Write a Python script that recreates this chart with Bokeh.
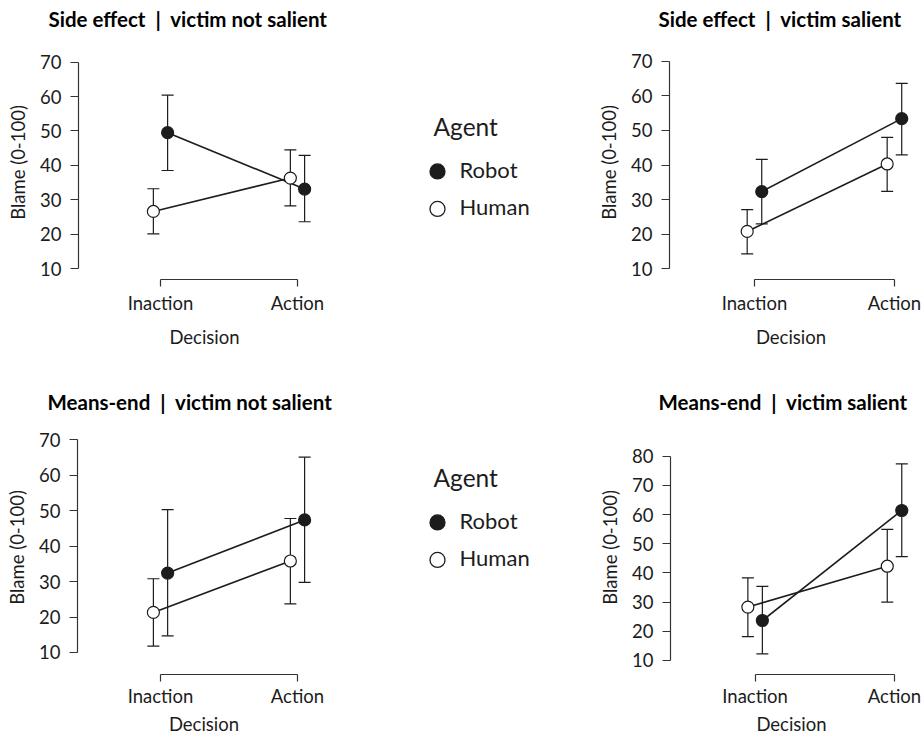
from bokeh.plotting import figure
from bokeh.models import ColumnDataSource, Range1d, FixedTicker, Whisker, TeeHead, Title
from bokeh.layouts import row, column
from bokeh.core.properties import value
from bokeh.embed import file_html
from bokeh.resources import INLINE

FONT = "Lato"
INK = "#1c1c1c"
NB = "\u00a0"

DECISIONS = ["Inaction", "Action"]
AGENTS = ["Robot", "Human"]
AGENT_FILL = {"Robot": INK, "Human": "white"}
AGENT_SHIFT = {"Human": -0.052, "Robot": 0.052}

# Mean blame with 95% CI, ordered as DECISIONS
SE_NS_ROBOT = [49.5, 33.1]
SE_NS_ROBOT_LO = [38.5, 23.6]
SE_NS_ROBOT_HI = [60.4, 42.9]
SE_NS_HUMAN = [26.6, 36.3]
SE_NS_HUMAN_LO = [20.1, 28.2]
SE_NS_HUMAN_HI = [33.2, 44.5]

SE_S_ROBOT = [32.3, 53.4]
SE_S_ROBOT_LO = [23.0, 42.9]
SE_S_ROBOT_HI = [41.6, 63.6]
SE_S_HUMAN = [20.8, 40.3]
SE_S_HUMAN_LO = [14.3, 32.4]
SE_S_HUMAN_HI = [27.1, 48.0]

ME_NS_ROBOT = [32.4, 47.4]
ME_NS_ROBOT_LO = [14.7, 29.8]
ME_NS_ROBOT_HI = [50.3, 65.1]
ME_NS_HUMAN = [21.3, 35.8]
ME_NS_HUMAN_LO = [11.8, 23.7]
ME_NS_HUMAN_HI = [30.8, 47.8]

ME_S_ROBOT = [23.7, 61.4]
ME_S_ROBOT_LO = [12.3, 45.6]
ME_S_ROBOT_HI = [35.4, 77.4]
ME_S_HUMAN = [28.3, 42.3]
ME_S_HUMAN_LO = [18.2, 30.0]
ME_S_HUMAN_HI = [38.3, 54.9]

Y_TICKS_70 = [10, 20, 30, 40, 50, 60, 70]
Y_TICKS_80 = [10, 20, 30, 40, 50, 60, 70, 80]

SEP = NB + NB + "|" + NB + NB
TITLES = [
    "Side effect" + SEP + "victim not salient",
    "Side effect" + SEP + "victim salient",
    "Means-end" + SEP + "victim not salient",
    "Means-end" + SEP + "victim salient",
]


def build_source(series):
    cols = {"x": [], "mean": [], "lo": [], "hi": [], "agent": []}
    for agent, (mean, lo, hi) in series.items():
        for i, d in enumerate(DECISIONS):
            cols["x"].append(i + 1 + AGENT_SHIFT[agent])
            cols["mean"].append(mean[i])
            cols["lo"].append(lo[i])
            cols["hi"].append(hi[i])
            cols["agent"].append(agent)
    return cols


def panel(title, series, y_ticks, x_rng, y_rng, width, height, borders, title_offset,
          title_gap, label_gaps):
    left, right, top, bottom = borders
    p = figure(width=width, height=height, x_range=Range1d(*x_rng), y_range=Range1d(*y_rng),
               output_backend="svg", toolbar_location=None,
               min_border_left=left, min_border_right=right,
               min_border_top=top, min_border_bottom=bottom)
    p.outline_line_color = None
    p.grid.visible = False
    p.background_fill_color = "white"
    p.border_fill_color = "white"

    # thin blank strip between the frame and the title
    spacer_gap, title_standoff = title_gap
    if spacer_gap:
        p.add_layout(Title(text=NB, text_font_size="1px", standoff=spacer_gap), "above")
    t = Title(text=title, align="left", offset=title_offset, text_font=FONT,
              text_font_size="20.5px", text_font_style="bold", text_color="black",
              standoff=title_standoff)
    p.add_layout(t, "above")

    cols = build_source(series)
    src = ColumnDataSource(cols)

    p.add_layout(Whisker(source=src, base="x", upper="hi", lower="lo", dimension="height",
                         line_color=INK, line_width=1.2,
                         upper_head=TeeHead(size=12, line_color=INK, line_width=1.2),
                         lower_head=TeeHead(size=12, line_color=INK, line_width=1.2)))

    for agent in AGENTS:
        idx = [i for i, a in enumerate(cols["agent"]) if a == agent]
        s = ColumnDataSource({k: [cols[k][i] for i in idx] for k in cols})
        p.line("x", "mean", source=s, line_color=INK, line_width=1.6)
    for agent in AGENTS:
        idx = [i for i, a in enumerate(cols["agent"]) if a == agent]
        s = ColumnDataSource({k: [cols[k][i] for i in idx] for k in cols})
        p.scatter("x", "mean", source=s, size=12, fill_color=AGENT_FILL[agent],
                  line_color=INK, line_width=1.2)

    ya = p.yaxis[0]
    ya.ticker = FixedTicker(ticks=y_ticks)
    ya.bounds = (y_ticks[0], y_ticks[-1])
    ya.axis_label = "Blame (0-100)"
    ya.minor_tick_line_color = None
    ya.major_tick_in = 0
    ya.major_tick_out = 8
    ya.major_label_standoff = 9
    ya.axis_label_standoff = 8

    xa = p.xaxis[0]
    xa.ticker = FixedTicker(ticks=[i + 1 for i in range(len(DECISIONS))])
    xa.major_label_overrides = {i + 1: d for i, d in enumerate(DECISIONS)}
    xa.bounds = (1, len(DECISIONS))
    xa.axis_label = "Decision"
    xa.minor_tick_line_color = None
    xa.major_tick_in = 0
    xa.major_tick_out = 7
    xa.major_label_standoff = label_gaps[0]
    xa.axis_label_standoff = label_gaps[1]

    for ax in (xa, ya):
        ax.axis_line_color = "#333333"
        ax.axis_line_width = 1.2
        ax.major_tick_line_color = "#333333"
        ax.major_tick_line_width = 1.2
        ax.major_label_text_font = FONT
        ax.major_label_text_font_size = "18.5px"
        ax.major_label_text_color = INK
        ax.axis_label_text_font = FONT
        ax.axis_label_text_font_size = "18.5px"
        ax.axis_label_text_font_style = "normal"
        ax.axis_label_text_color = INK
    return p


def legend_fig(width, height, base):
    # legend drawn in a bare frame; y grows downward, in pixels
    p = figure(frame_width=width, frame_height=height,
               x_range=Range1d(0, width), y_range=Range1d(height, 0),
               output_backend="svg", toolbar_location=None, min_border=0,
               x_axis_location=None, y_axis_location=None)
    p.outline_line_color = None
    p.grid.visible = False
    p.text(x=[88], y=[base], text=["Agent"], text_font=value(FONT), text_font_size="24.5px",
           text_baseline="alphabetic", text_color=INK)
    item_y = [base + 42.5 + 37.5 * i for i in range(len(AGENTS))]
    p.text(x=[114] * len(AGENTS), y=item_y, text=AGENTS, text_font=value(FONT),
           text_font_size="22px", text_baseline="alphabetic", text_color=INK)
    p.scatter(x=[92] * len(AGENTS), y=[y + 2.4 for y in item_y], size=15,
              fill_color=[AGENT_FILL[a] for a in AGENTS], line_color=INK, line_width=1.3)
    return p


p1 = panel(TITLES[0],
           {"Robot": (SE_NS_ROBOT, SE_NS_ROBOT_LO, SE_NS_ROBOT_HI),
            "Human": (SE_NS_HUMAN, SE_NS_HUMAN_LO, SE_NS_HUMAN_HI)},
           Y_TICKS_70, (0.4015, 2.241), (6.82, 74.83), 345, 372, (78, 15, 45, 92), -30,
           (12, 0), (5, 9))
p2 = panel(TITLES[1],
           {"Robot": (SE_S_ROBOT, SE_S_ROBOT_LO, SE_S_ROBOT_HI),
            "Human": (SE_S_HUMAN, SE_S_HUMAN_LO, SE_S_HUMAN_HI)},
           Y_TICKS_70, (0.393, 2.129), (6.91, 74.54), 332, 372, (79, 10, 45, 93), -11,
           (12, 0), (5, 9))
p3 = panel(TITLES[2],
           {"Robot": (ME_NS_ROBOT, ME_NS_ROBOT_LO, ME_NS_ROBOT_HI),
            "Human": (ME_NS_HUMAN, ME_NS_HUMAN_LO, ME_NS_HUMAN_HI)},
           Y_TICKS_70, (0.394, 2.241), (3.79, 75.44), 345, 365, (77, 15, 48, 63), -30,
           (0, 13), (3, 3))
p4 = panel(TITLES[3],
           {"Robot": (ME_S_ROBOT, ME_S_ROBOT_LO, ME_S_ROBOT_HI),
            "Human": (ME_S_HUMAN, ME_S_HUMAN_LO, ME_S_HUMAN_HI)},
           Y_TICKS_80, (0.393, 2.129), (5.2, 92.23), 332, 365, (80, 10, 48, 63), -12,
           (0, 13), (3, 3))

leg1 = legend_fig(245, 372, 81)
leg2 = legend_fig(245, 365, 57)

layout = column(row(p1, leg1, p2, spacing=0), row(p3, leg2, p4, spacing=0), spacing=0)

open("out.html", "w").write(file_html(layout, INLINE))
